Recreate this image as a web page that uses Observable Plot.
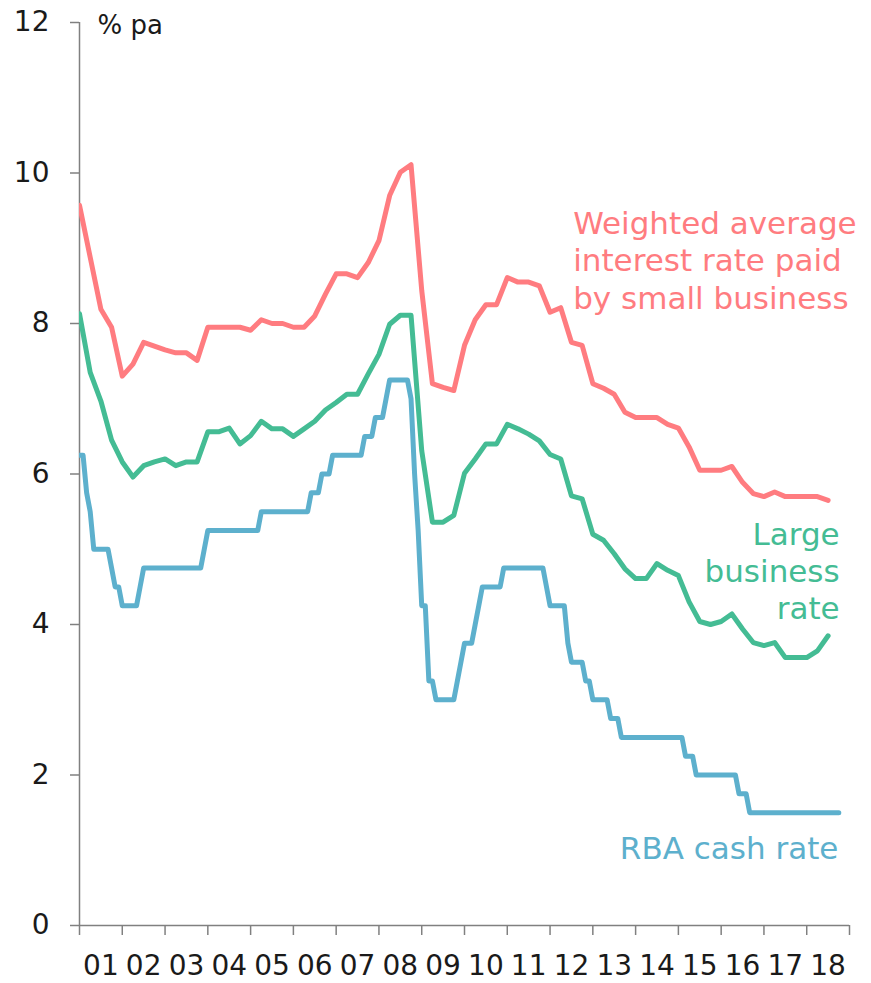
<!DOCTYPE html>
<html>
<head>
<meta charset="utf-8">
<script src="https://cdn.jsdelivr.net/npm/d3@7"></script>
<script src="https://cdn.jsdelivr.net/npm/@observablehq/plot@0.6"></script>
<style>
  body { margin: 0; background: #fff; }
  #chart svg { display: block; }
  g[aria-label="y-axis tick"], g[aria-label="x-axis tick"] { stroke: #808080; stroke-width: 1.5px; }
</style>
</head>
<body>
<div id="chart"></div>
<script>
// x-axis tick labels (one per calendar year, centred in the year)
const xLabels = ["01","02","03","04","05","06","07","08","09","10","11","12","13","14","15","16","17","18"];
// y-axis ticks (% pa)
const yTicks = [0, 2, 4, 6, 8, 10, 12];

// Quarterly, end of quarter, Dec 2000 – Jun 2018
const smallBusinessRate = [
  9.57,
  8.88, 8.19, 7.95, 7.30,
  7.46, 7.75, 7.70, 7.65,
  7.61, 7.61, 7.51, 7.95,
  7.95, 7.95, 7.95, 7.91,
  8.05, 8.00, 8.00, 7.95,
  7.95, 8.10, 8.39, 8.66,
  8.66, 8.61, 8.81, 9.10,
  9.70, 10.01, 10.11, 8.44,
  7.20, 7.15, 7.11, 7.71,
  8.05, 8.25, 8.25, 8.61,
  8.55, 8.55, 8.50, 8.15,
  8.21, 7.75, 7.71, 7.20,
  7.14, 7.06, 6.82, 6.75,
  6.75, 6.75, 6.66, 6.61,
  6.36, 6.05, 6.05, 6.05,
  6.10, 5.89, 5.74, 5.70,
  5.76, 5.70, 5.70, 5.70,
  5.70, 5.65
];
const largeBusinessRate = [
  8.13,
  7.35, 6.97, 6.45, 6.16,
  5.96, 6.11, 6.16, 6.20,
  6.11, 6.16, 6.16, 6.56,
  6.56, 6.61, 6.40, 6.51,
  6.70, 6.60, 6.60, 6.50,
  6.60, 6.70, 6.85, 6.95,
  7.06, 7.06, 7.33, 7.59,
  7.99, 8.11, 8.11, 6.31,
  5.36, 5.36, 5.45, 6.01,
  6.20, 6.40, 6.40, 6.66,
  6.60, 6.53, 6.44, 6.26,
  6.20, 5.71, 5.67, 5.20,
  5.12, 4.94, 4.74, 4.61,
  4.61, 4.81, 4.72, 4.65,
  4.30, 4.04, 4.00, 4.04,
  4.14, 3.94, 3.76, 3.72,
  3.76, 3.56, 3.56, 3.56,
  3.65, 3.85
];
// Monthly, end of month, Dec 2000 – Sep 2018
const cashRate = [
  6.25,
  6.25, 5.75, 5.50, 5.00, 5.00, 5.00, 5.00, 5.00, 4.75, 4.50, 4.50, 4.25,
  4.25, 4.25, 4.25, 4.25, 4.50, 4.75, 4.75, 4.75, 4.75, 4.75, 4.75, 4.75,
  4.75, 4.75, 4.75, 4.75, 4.75, 4.75, 4.75, 4.75, 4.75, 4.75, 5.00, 5.25,
  5.25, 5.25, 5.25, 5.25, 5.25, 5.25, 5.25, 5.25, 5.25, 5.25, 5.25, 5.25,
  5.25, 5.25, 5.50, 5.50, 5.50, 5.50, 5.50, 5.50, 5.50, 5.50, 5.50, 5.50,
  5.50, 5.50, 5.50, 5.50, 5.75, 5.75, 5.75, 6.00, 6.00, 6.00, 6.25, 6.25,
  6.25, 6.25, 6.25, 6.25, 6.25, 6.25, 6.25, 6.50, 6.50, 6.50, 6.75, 6.75,
  6.75, 7.00, 7.25, 7.25, 7.25, 7.25, 7.25, 7.25, 7.00, 6.00, 5.25, 4.25,
  4.25, 3.25, 3.25, 3.00, 3.00, 3.00, 3.00, 3.00, 3.00, 3.25, 3.50, 3.75,
  3.75, 3.75, 4.00, 4.25, 4.50, 4.50, 4.50, 4.50, 4.50, 4.50, 4.75, 4.75,
  4.75, 4.75, 4.75, 4.75, 4.75, 4.75, 4.75, 4.75, 4.75, 4.75, 4.50, 4.25,
  4.25, 4.25, 4.25, 4.25, 3.75, 3.50, 3.50, 3.50, 3.50, 3.25, 3.25, 3.00,
  3.00, 3.00, 3.00, 3.00, 2.75, 2.75, 2.75, 2.50, 2.50, 2.50, 2.50, 2.50,
  2.50, 2.50, 2.50, 2.50, 2.50, 2.50, 2.50, 2.50, 2.50, 2.50, 2.50, 2.50,
  2.50, 2.25, 2.25, 2.25, 2.00, 2.00, 2.00, 2.00, 2.00, 2.00, 2.00, 2.00,
  2.00, 2.00, 2.00, 2.00, 1.75, 1.75, 1.75, 1.50, 1.50, 1.50, 1.50, 1.50,
  1.50, 1.50, 1.50, 1.50, 1.50, 1.50, 1.50, 1.50, 1.50, 1.50, 1.50, 1.50,
  1.50, 1.50, 1.50, 1.50, 1.50, 1.50, 1.50, 1.50, 1.50
];

const seriesLabels = [
  "Weighted average\ninterest rate paid\nby small business",
  "Large\nbusiness\nrate",
  "RBA cash rate"
];
const seriesColors = ["#ff7c80", "#44bc94", "#5db0cd"];
const unitLabel = "% pa";

// Build tables (decimal years; first point = end of Dec 2000)
const firstDate = 2001;
const small = smallBusinessRate.map((v, i) => ({date: firstDate + i / 4, value: v}));
const large = largeBusinessRate.map((v, i) => ({date: firstDate + i / 4, value: v}));
const cash = cashRate.map((v, i) => ({date: firstDate + i / 12, value: v}));
const yearBounds = d3.range(2001, 2001 + xLabels.length + 1);
const labelPositions = xLabels.map((_, i) => 2001.5 + i);

const axisColor = "#808080";
const font = "DejaVu Sans";
const lineWidth = 5;

const chart = Plot.plot({
  width: 871,
  height: 983,
  marginLeft: 79,
  marginRight: 22,
  marginTop: 22,
  marginBottom: 58,
  style: {fontFamily: font, background: "white", color: "#1a1a1a", overflow: "visible"},
  x: {domain: [2001, 2019]},
  y: {domain: [0, 12]},
  marks: [
    Plot.axisY(yTicks, {tickSize: 9, tickPadding: 21, fontSize: 28, label: null, tickFormat: (d) => String(d)}),
    Plot.axisX(yearBounds, {tickSize: 10, tickFormat: () => "", label: null}),
    Plot.axisX(labelPositions, {tickSize: 0, tickPadding: 30, fontSize: 28, label: null,
      tickFormat: (d) => xLabels[Math.round(d - 2001.5)]}),
    Plot.ruleX([2001], {stroke: axisColor, strokeWidth: 1.5}),
    Plot.ruleY([0], {stroke: axisColor, strokeWidth: 1.5}),
    Plot.line(cash, {x: "date", y: "value", stroke: seriesColors[2], strokeWidth: lineWidth, clip: true}),
    Plot.line(large, {x: "date", y: "value", stroke: seriesColors[1], strokeWidth: lineWidth, clip: true}),
    Plot.line(small, {x: "date", y: "value", stroke: seriesColors[0], strokeWidth: lineWidth, clip: true}),
    Plot.text([seriesLabels[0]], {x: () => 2012.54, y: () => 8.85, text: d => d, textAnchor: "start",
      lineAnchor: "middle", lineHeight: 1.2, fontSize: 31, fill: seriesColors[0]}),
    Plot.text([seriesLabels[1]], {x: () => 2018.77, y: () => 4.72, text: d => d, textAnchor: "end",
      lineAnchor: "middle", lineHeight: 1.2, fontSize: 31, fill: seriesColors[1]}),
    Plot.text([seriesLabels[2]], {x: () => 2018.74, y: () => 1.01, text: d => d, textAnchor: "end",
      lineAnchor: "middle", fontSize: 31, fill: seriesColors[2]}),
    Plot.text([unitLabel], {x: () => 2001.42, y: () => 11.96, text: d => d, textAnchor: "start",
      lineAnchor: "middle", fontSize: 26, fill: "#1a1a1a"})
  ]
});
document.getElementById("chart").append(chart);
</script>
</body>
</html>
